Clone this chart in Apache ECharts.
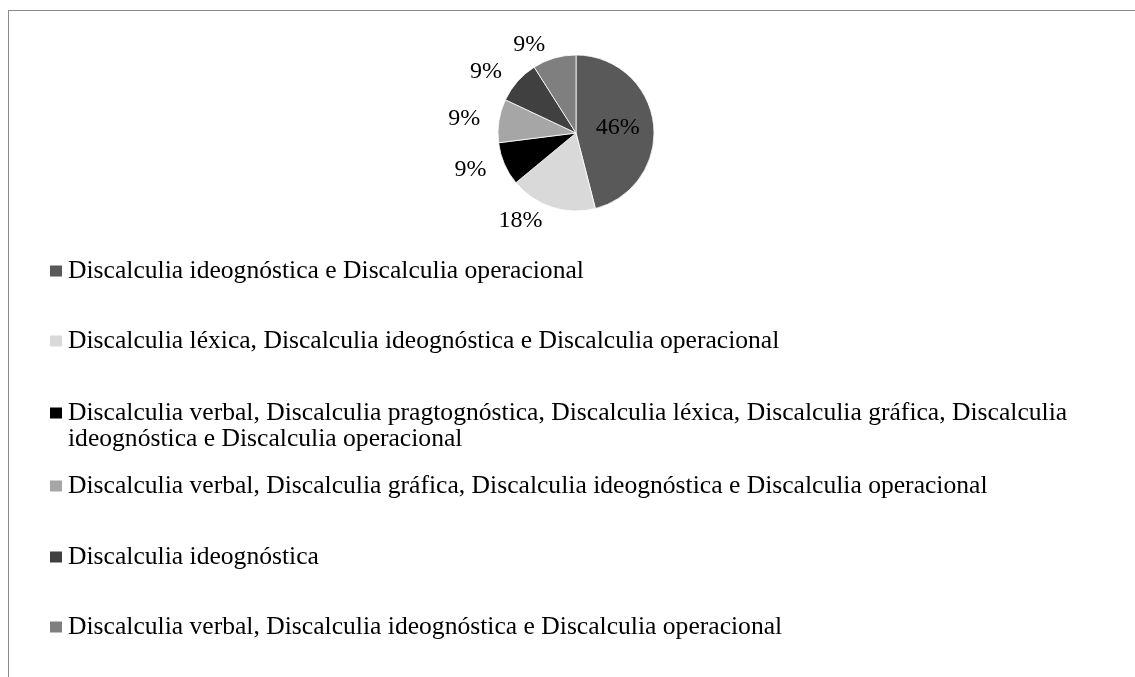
<!DOCTYPE html>
<html>
<head>
<meta charset="utf-8">
<script src="https://cdn.jsdelivr.net/npm/echarts@6/dist/echarts.min.js"></script>
<style>
  body { margin: 0; background: #fff; }
  #wrap { position: relative; width: 1135px; height: 677px; overflow: hidden; }
  #main { position: absolute; left: 0; top: 0; width: 1135px; height: 677px; }
  #frame { position: absolute; left: 8px; top: 10px; width: 1200px; height: 700px;
           border-left: 1px solid #8a8a8a; border-top: 1px solid #8a8a8a; pointer-events: none; }
</style>
</head>
<body>
<div id="wrap">
  <div id="main"></div>
  <div id="frame"></div>
</div>
<script>
// categorias (tipos de discalculia)
const categories = [
  'Discalculia ideognóstica e Discalculia operacional',
  'Discalculia léxica, Discalculia ideognóstica e Discalculia operacional',
  'Discalculia verbal, Discalculia pragtognóstica, Discalculia léxica, Discalculia gráfica, Discalculia ideognóstica e Discalculia operacional',
  'Discalculia verbal, Discalculia gráfica, Discalculia ideognóstica e Discalculia operacional',
  'Discalculia ideognóstica',
  'Discalculia verbal, Discalculia ideognóstica e Discalculia operacional'
];
// percentuais
const values = [46, 18, 9, 9, 9, 9];
const colors = ['#595959', '#d9d9d9', '#000000', '#a6a6a6', '#404040', '#7f7f7f'];

const chart = echarts.init(document.getElementById('main'));

const font = 'Liberation Serif, Times New Roman, serif';
// topo de cada legenda
const legendTops = [258, 328, 374, 473, 544, 614];

const legends = categories.map(function (name, i) {
  return {
    orient: 'vertical',
    left: 48,
    top: legendTops[i],
    padding: 0,
    itemWidth: 14,
    itemHeight: 13,
    icon: 'rect',
    selectedMode: false,
    data: [name],
    // a 3a legenda quebra em duas linhas, alinhadas pela primeira
    formatter: i === 2 ? '\n{name}' : '{name}',
    textStyle: {
      fontFamily: font,
      fontSize: 25.6,
      color: '#000',
      lineHeight: 26,
      width: 1060,
      overflow: 'break'
    }
  };
});

const option = {
  animation: false,
  color: colors,
  legend: legends,
  series: [{
    type: 'pie',
    center: [576, 133],
    radius: 78,
    startAngle: 90,
    clockwise: true,
    avoidLabelOverlap: false,
    itemStyle: { borderColor: '#fff', borderWidth: 0.8 },
    label: {
      position: 'outside',
      fontFamily: font,
      fontSize: 24,
      color: '#000',
      formatter: '{c}%'
    },
    labelLine: { show: false, length: 14, length2: 0 },
    data: categories.map(function (name, i) {
      const item = { name: name, value: values[i] };
      if (i === 0) item.label = { position: 'inside' };
      return item;
    })
  }]
};

chart.setOption(option);
</script>
</body>
</html>
